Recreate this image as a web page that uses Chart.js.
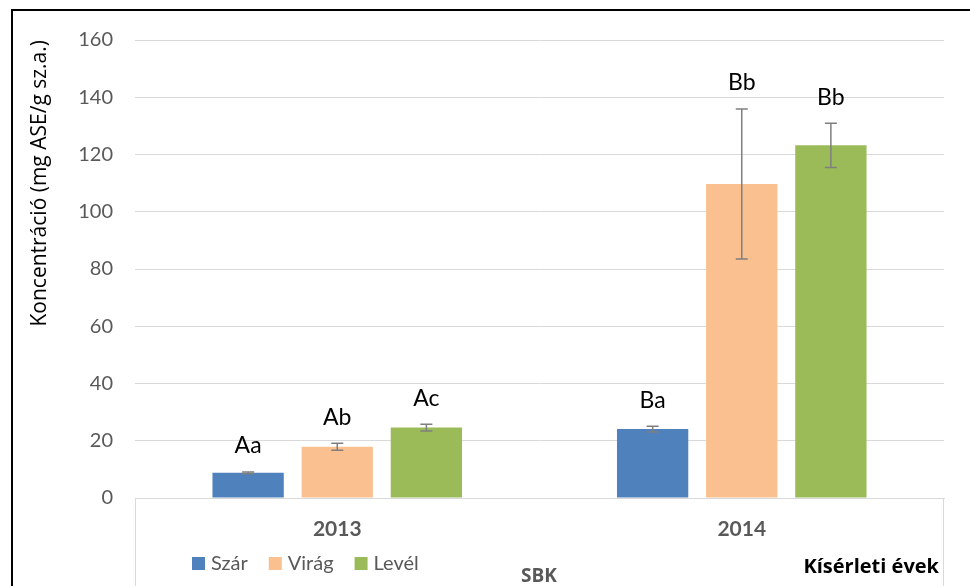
<!DOCTYPE html>
<html>
<head>
<meta charset="utf-8">
<script src="https://cdn.jsdelivr.net/npm/chart.js@4"></script>
<style>
  body { margin: 0; background: #fff; }
  #wrap { width: 970px; height: 586px; position: relative; }
</style>
</head>
<body>
<div id="wrap"><canvas id="myBarChart"></canvas></div>
<script>
const years = ["2013", "2014"];
const seriesNames = ["Szár", "Virág", "Levél"];
const szar = [8.8, 24.1];
const virag = [17.9, 109.7];
const level = [24.6, 123.2];
const szarErr = [0.3, 1.0];
const viragErr = [1.2, 26.2];
const levelErr = [1.2, 7.7];
const szarLetters = ["Aa", "Ba"];
const viragLetters = ["Ab", "Bb"];
const levelLetters = ["Ac", "Bb"];
const yTicks = [0, 20, 40, 60, 80, 100, 120, 140, 160];

const colors = ["#4f81bd", "#fac090", "#9bbb59"];
const errs = [szarErr, viragErr, levelErr];
const letters = [szarLetters, viragLetters, levelLetters];
const FONT = "Lato";

// error bars, letters, legend, frame
const extras = {
  id: "extras",
  afterDatasetsDraw(chart) {
    const ctx = chart.ctx;
    const y = chart.scales.y;
    ctx.save();
    chart.data.datasets.forEach((ds, i) => {
      const meta = chart.getDatasetMeta(i);
      meta.data.forEach((bar, j) => {
        const v = ds.data[j];
        const e = errs[i][j];
        const top = y.getPixelForValue(v + e);
        const bot = y.getPixelForValue(v - e);
        ctx.strokeStyle = "#7f7f7f";
        ctx.lineWidth = 1.5;
        ctx.beginPath();
        ctx.moveTo(bar.x, top); ctx.lineTo(bar.x, bot);
        ctx.moveTo(bar.x - 6, top); ctx.lineTo(bar.x + 6, top);
        ctx.moveTo(bar.x - 6, bot); ctx.lineTo(bar.x + 6, bot);
        ctx.stroke();
        ctx.fillStyle = "#000";
        ctx.font = "23px " + FONT;
        ctx.textAlign = "center";
        ctx.textBaseline = "middle";
        ctx.fillText(letters[i][j], bar.x, top - 26);
      });
    });
    ctx.restore();
  },
  afterDraw(chart) {
    const ctx = chart.ctx;
    const a = chart.chartArea;
    ctx.save();
    // category box sides
    ctx.strokeStyle = "#d9d9d9";
    ctx.lineWidth = 1;
    ctx.beginPath();
    ctx.moveTo(a.left + 0.5, a.bottom); ctx.lineTo(a.left + 0.5, 586);
    ctx.moveTo(a.right - 0.5, a.bottom); ctx.lineTo(a.right - 0.5, 586);
    ctx.stroke();
    // legend
    let x = 192;
    ctx.font = "20px " + FONT;
    ctx.textBaseline = "middle";
    ctx.textAlign = "left";
    seriesNames.forEach((n, i) => {
      ctx.fillStyle = colors[i];
      ctx.fillRect(x, 557, 13, 13);
      ctx.fillStyle = "#595959";
      ctx.fillText(n, x + 19, 564);
      x += 19 + ctx.measureText(n).width + 21;
    });
    ctx.font = "bold 19px 'Open Sans'";
    ctx.fillStyle = "#595959";
    ctx.textAlign = "center";
    ctx.fillText("SBK", 539, 577);
    ctx.font = "bold 20px 'Open Sans'";
    ctx.fillStyle = "#000";
    ctx.textAlign = "right";
    ctx.fillText("Kísérleti évek", 939, 567);
    // outer frame
    ctx.strokeStyle = "#000";
    ctx.lineWidth = 2;
    ctx.beginPath();
    ctx.moveTo(12, 590); ctx.lineTo(12, 10); ctx.lineTo(975, 10);
    ctx.stroke();
    ctx.restore();
  }
};

const ctx = document.getElementById("myBarChart").getContext("2d");
new Chart(ctx, {
  type: "bar",
  data: {
    labels: years,
    datasets: [
      { label: seriesNames[0], data: szar, backgroundColor: colors[0] },
      { label: seriesNames[1], data: virag, backgroundColor: colors[1] },
      { label: seriesNames[2], data: level, backgroundColor: colors[2] },
    ],
  },
  options: {
    responsive: true,
    maintainAspectRatio: false,
    animation: false,
    categoryPercentage: 0.661,
    barPercentage: 0.8,
    layout: { padding: { left: 0, right: 26, top: 40, bottom: 0 } },
    plugins: {
      legend: { display: false },
      tooltip: { enabled: false },
    },
    scales: {
      x: {
        grid: { color: "rgba(0,0,0,0)", drawTicks: false },
        border: { color: "#d9d9d9" },
        ticks: { color: "#595959", font: { family: FONT, size: 21, weight: "bold" }, padding: 19 },
        afterFit(s) { s.height = 88; },
      },
      y: {
        min: 0,
        max: 160,
        afterBuildTicks(s) { s.ticks = yTicks.map(v => ({ value: v })); },
        grid: { color: "#d9d9d9", drawTicks: false },
        border: { display: false },
        ticks: { color: "#595959", font: { family: FONT, size: 20 }, padding: 22 },
        title: {
          display: true,
          text: "Koncentráció (mg ASE/g sz.a.)",
          align: "end",
          color: "#000",
          font: { family: "Open Sans", size: 21 },
          padding: { top: 27, bottom: 0 },
        },
        afterFit(s) { s.width = 135; },
      },
    },
  },
  plugins: [extras],
});
</script>
</body>
</html>
